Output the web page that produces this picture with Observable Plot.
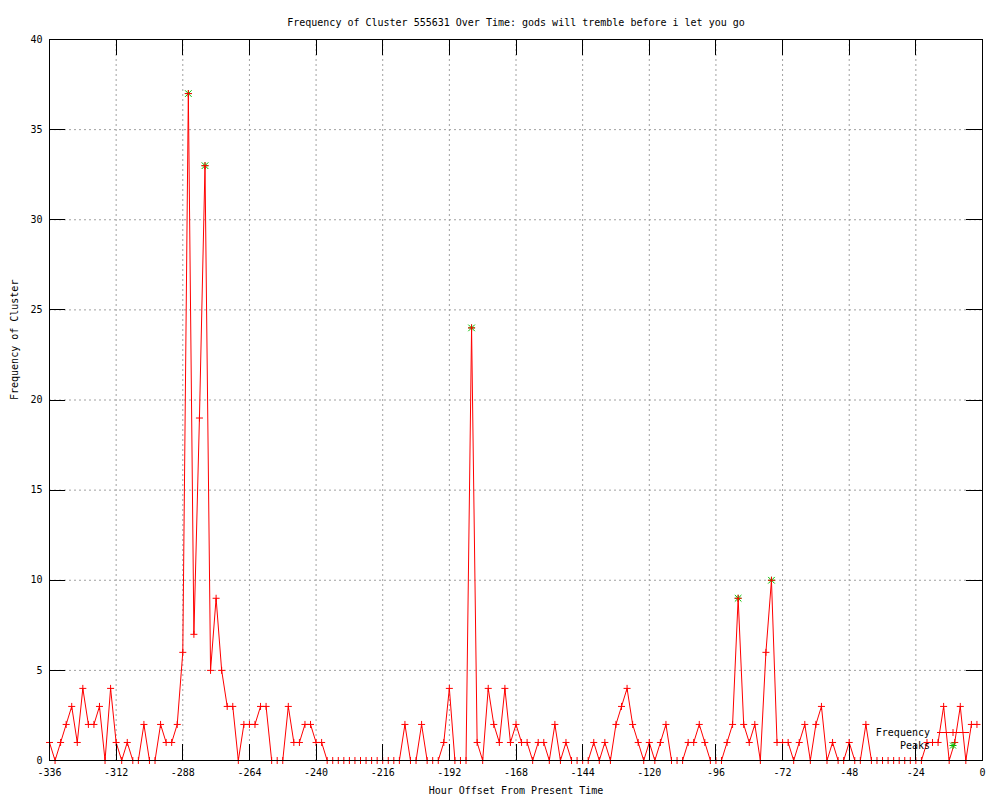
<!DOCTYPE html>
<html>
<head>
<meta charset="utf-8">
<script src="https://cdn.jsdelivr.net/npm/d3@7"></script>
<script src="https://cdn.jsdelivr.net/npm/@observablehq/plot@0.6"></script>
<style>
  html, body { margin: 0; padding: 0; background: #fff; }
  #chart svg { display: block; }
</style>
</head>
<body>
<div id="chart"></div>
<script>
const hours = [
  -336,-334,-332,-330,-328,-326,-324,-322,-320,-318,
  -316,-314,-312,-310,-308,-306,-304,-302,-300,-298,
  -296,-294,-292,-290,-288,-286,-284,-282,-280,-278,
  -276,-274,-272,-270,-268,-266,-264,-262,-260,-258,
  -256,-254,-252,-250,-248,-246,-244,-242,-240,-238,
  -236,-234,-232,-230,-228,-226,-224,-222,-220,-218,
  -216,-214,-212,-210,-208,-206,-204,-202,-200,-198,
  -196,-194,-192,-190,-188,-186,-184,-182,-180,-178,
  -176,-174,-172,-170,-168,-166,-164,-162,-160,-158,
  -156,-154,-152,-150,-148,-146,-144,-142,-140,-138,
  -136,-134,-132,-130,-128,-126,-124,-122,-120,-118,
  -116,-114,-112,-110,-108,-106,-104,-102,-100,-98,
  -96,-94,-92,-90,-88,-86,-84,-82,-80,-78,
  -76,-74,-72,-70,-68,-66,-64,-62,-60,-58,
  -56,-54,-52,-50,-48,-46,-44,-42,-40,-38,
  -36,-34,-32,-30,-28,-26,-24,-22,-20,-18,
  -16,-14,-12,-10,-8,-6,-4,-2
];
const frequency = [
  1,0,1,2,3,1,4,2,2,3,
  0,4,1,0,1,0,0,2,0,0,
  2,1,1,2,6,37,7,19,33,5,
  9,5,3,3,0,2,2,2,3,3,
  0,0,0,3,1,1,2,2,1,1,
  0,0,0,0,0,0,0,0,0,0,
  0,0,0,0,2,0,0,2,0,0,
  0,1,4,0,0,0,24,1,0,4,
  2,1,4,1,2,1,1,0,1,1,
  0,2,0,1,0,0,0,0,1,0,
  1,0,2,3,4,2,1,0,1,0,
  1,2,0,0,0,1,1,2,1,0,
  0,0,1,2,9,2,1,2,0,6,
  10,1,1,1,0,1,2,0,2,3,
  0,1,0,0,1,0,0,2,0,0,
  0,0,0,0,0,0,0,0,1,1,
  1,3,0,1,3,0,2,2
];
const peakHours = [-286, -280, -184, -88, -76];
const peakValues = [37, 33, 24, 9, 10];
const xTicks = [-336,-312,-288,-264,-240,-216,-192,-168,-144,-120,-96,-72,-48,-24,0];
const yTicks = [0,5,10,15,20,25,30,35,40];
const titleText = "Frequency of Cluster 555631 Over Time: gods will tremble before i let you go";
const xLabelText = "Hour Offset From Present Time";
const yLabelText = "Frequency of Cluster";
const legendLabels = ["Frequency", "Peaks"];

const series = hours.map((h, i) => ({h, f: frequency[i]}));
const peaks = peakHours.map((h, i) => ({h, f: peakValues[i]}));

const FONT = "DejaVu Sans Mono";
const RED = "#ff0000", GREEN = "#00c000", GRID = "#a0a0a0";
const TICK = 16;

function frameAndTicks(index, scales, values, dim) {
  const {x, y} = scales;
  const L = dim.marginLeft, R = dim.width - dim.marginRight;
  const T = dim.marginTop, B = dim.height - dim.marginBottom;
  const g = d3.create("svg:g");
  let d = "";
  for (const t of xTicks) {
    const px = Math.round(x(t)) + 0.5;
    d += `M${px},${B}V${B - TICK}M${px},${T}V${T + TICK}`;
  }
  for (const t of yTicks) {
    const py = Math.round(y(t)) + 0.5;
    d += `M${L},${py}H${L + TICK}M${R},${py}H${R - TICK}`;
  }
  g.append("path").attr("d", d).attr("stroke", "#000").attr("fill", "none").attr("stroke-width", 1);
  g.append("rect")
    .attr("x", L + 0.5).attr("y", T + 0.5)
    .attr("width", R - L).attr("height", B - T)
    .attr("fill", "none").attr("stroke", "#000").attr("stroke-width", 1);
  return g.node();
}

function legend(index, scales, values, dim) {
  const R = dim.width - dim.marginRight;
  const B = dim.height - dim.marginBottom;
  const g = d3.create("svg:g").attr("font-family", FONT).attr("font-size", 10);
  const textX = R - 52, x1 = R - 45, x2 = R - 13, xm = (x1 + x2) / 2;
  const y1 = B - 27.5, y2 = B - 14.5;
  g.append("text").attr("x", textX).attr("y", y1).attr("dy", "0.32em")
    .attr("text-anchor", "end").attr("fill", "#000").text(legendLabels[0]);
  g.append("text").attr("x", textX).attr("y", y2).attr("dy", "0.32em")
    .attr("text-anchor", "end").attr("fill", "#000").text(legendLabels[1]);
  g.append("path").attr("d", `M${x1},${y1}H${x2}M${xm - 3.5},${y1}H${xm + 3.5}M${xm},${y1 - 3.5}V${y1 + 3.5}`)
    .attr("stroke", RED).attr("fill", "none");
  g.append("path").attr("d", `M${xm - 3.5},${y2}H${xm + 3.5}M${xm},${y2 - 3.5}V${y2 + 3.5}M${xm - 3},${y2 - 3}L${xm + 3},${y2 + 3}M${xm - 3},${y2 + 3}L${xm + 3},${y2 - 3}`)
    .attr("stroke", GREEN).attr("fill", "none");
  return g.node();
}

const chart = Plot.plot({
  width: 1000,
  height: 800,
  marginLeft: 49,
  marginRight: 18,
  marginTop: 39,
  marginBottom: 40,
  style: {fontFamily: FONT, fontSize: "10px", background: "#fff", color: "#000"},
  x: {domain: [-336, 0], label: null},
  y: {domain: [0, 40], label: null},
  marks: [
    Plot.gridX(xTicks.slice(1, -1), {stroke: GRID, strokeOpacity: 1, strokeDasharray: "2,3"}),
    Plot.gridY(yTicks.slice(1, -1), {stroke: GRID, strokeOpacity: 1, strokeDasharray: "2,3"}),
    Plot.axisX(xTicks, {tickSize: 0, tickPadding: 8, tickFormat: d => String(d), label: null, fontSize: 10, fontFamily: FONT, fill: "#000"}),
    Plot.axisY(yTicks, {tickSize: 0, tickPadding: 7, tickFormat: d => String(d), label: null, fontSize: 10, fontFamily: FONT, fill: "#000"}),
    Plot.dot(peaks, {x: "h", y: "f", symbol: "plus", r: 2.4, stroke: GREEN, strokeWidth: 1}),
    Plot.dot(peaks, {x: "h", y: "f", symbol: "times", r: 3.1, stroke: GREEN, strokeWidth: 1}),
    Plot.line(series, {x: "h", y: "f", stroke: RED, strokeWidth: 1}),
    Plot.dot(series, {x: "h", y: "f", symbol: "plus", r: 2.4, stroke: RED, strokeWidth: 1}),
    frameAndTicks,
    legend,
    Plot.text([titleText], {frameAnchor: "top", dy: -21, text: d => d, fontSize: 10, fontFamily: FONT, fill: "#000"}),
    Plot.text([xLabelText], {frameAnchor: "bottom", dy: 33, text: d => d, fontSize: 10, fontFamily: FONT, fill: "#000"}),
    Plot.text([yLabelText], {frameAnchor: "left", dx: -35, rotate: -90, text: d => d, fontSize: 10, fontFamily: FONT, fill: "#000"})
  ]
});
document.getElementById("chart").appendChild(chart);
</script>
</body>
</html>
